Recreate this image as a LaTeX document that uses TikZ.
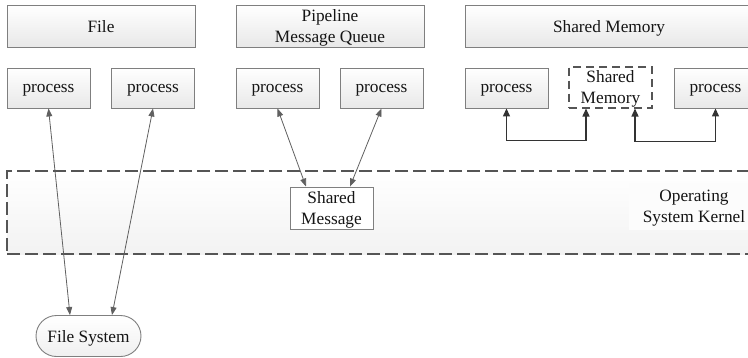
\documentclass[tikz,border=0pt]{standalone}
\usepackage{fontspec}
\setmainfont{Liberation Serif}
\usetikzlibrary{arrows.meta,calc,shapes.misc}
\definecolor{bordergray}{HTML}{7F7F7F}
\definecolor{dashgray}{HTML}{555555}
\definecolor{linegray}{HTML}{606060}
\definecolor{txt}{HTML}{151515}
\tikzset{
  txtfont/.style={text=txt, font=\fontsize{17.3}{21}\selectfont, text depth=0pt},
  box/.style={draw=bordergray, line width=0.9pt, top color=white, bottom color=black!9,
    inner sep=0pt, align=center, txtfont},
  topbox/.style={box, minimum width=188pt, minimum height=42pt},
  procbox/.style={box, minimum width=83pt, minimum height=40pt},
  dashbox/.style={draw=dashgray, line width=2pt, dash pattern=on 8pt off 5pt, fill=white,
    minimum width=83pt, minimum height=41pt, inner sep=0pt, align=center, txtfont},
  kernelbox/.style={draw=dashgray, line width=2.5pt, dash pattern=on 13pt off 5pt,
    top color=white, bottom color=black!5, minimum width=753pt, minimum height=83pt, inner sep=0pt},
  msgbox/.style={draw=bordergray, line width=0.9pt, fill=white, minimum width=83pt,
    minimum height=42pt, inner sep=0pt, align=center, txtfont},
  fsbox/.style={draw=bordergray, line width=0.9pt, rounded rectangle, top color=white, bottom color=black!6,
    minimum width=105pt, minimum height=41pt, inner sep=0pt, txtfont},
  oslabel/.style={fill=black!1, minimum width=130pt, minimum height=47pt, inner sep=0pt, align=center,
    txtfont},
  conn/.style={draw=linegray, line width=0.8pt, {Triangle[length=8pt,width=6pt]}-{Triangle[length=8pt,width=6pt]}},
  smconn/.style={draw=black!80, line width=1.3pt, {Triangle[length=8pt,width=7pt]}-{Triangle[length=8pt,width=7pt]}},
}
\begin{document}
\begin{tikzpicture}[x=1pt,y=-1pt]
\useasboundingbox (0,0) rectangle (748,357);
% kernel
\node[kernelbox] (kernel) at (383.5,212.5) {};
\node[oslabel] (os) at (694,206.5) {Operating\\System Kernel};
% top boxes
\node[topbox] (file) at (101,26) {File};
\node[topbox] (pipe) at (330,26) {Pipeline\\Message Queue};
\node[topbox, minimum width=300pt] (shm) at (615,26) {};
\node[txtfont] (shmlabel) at (609,26) {Shared Memory};
% processes
\node[procbox] (p1) at (48.5,88) {process};
\node[procbox] (p2) at (153,88) {process};
\node[procbox] (p3) at (277.5,88) {process};
\node[procbox] (p4) at (381.5,88) {process};
\node[procbox] (p5) at (506.5,88) {process};
\node[dashbox] (sm) at (610.5,87) {Shared\\Memory};
\node[procbox] (p6) at (715.5,88) {process};
% shared message
\node[msgbox] (msg) at (331.5,208) {Shared\\Message};
% file system
\node[fsbox] (fs) at (88.5,336) {File System};
% connectors
\draw[conn] (p1.south) -- ([xshift=-18.5pt]fs.north);
\draw[conn] (p2.south) -- ([xshift=23.5pt]fs.north);
\draw[conn] (p3.south) -- ([xshift=-25.5pt]msg.north);
\draw[conn] (p4.south) -- ([xshift=18.5pt]msg.north);
\draw[smconn] (p5.south) -- ++(0,32) -| ([xshift=-24.5pt]sm.south);
\draw[smconn] ([xshift=24.5pt]sm.south) -- ++(0,33) -| (p6.south);
\end{tikzpicture}
\end{document}
